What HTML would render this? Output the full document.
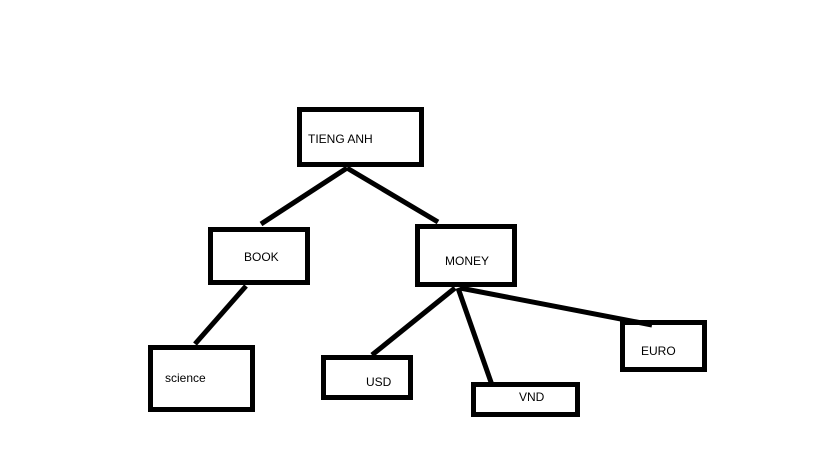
<!DOCTYPE html>
<html><head><meta charset="utf-8"><style>
html,body{margin:0;padding:0;background:#fff;width:819px;height:460px;overflow:hidden}
</style></head><body>
<svg width="819" height="460" xmlns="http://www.w3.org/2000/svg">
<g fill="none" stroke="#000" stroke-width="5">
<rect x="299.5" y="109.5" width="122" height="55"/>
<rect x="210.5" y="229.5" width="97" height="53"/>
<rect x="417.5" y="226.5" width="97" height="58"/>
<rect x="150.5" y="347.5" width="102" height="62"/>
<rect x="323.5" y="357.5" width="87" height="40"/>
<rect x="473.5" y="384.5" width="104" height="30"/>
<rect x="622.5" y="322.5" width="82" height="47"/>
<line x1="347" y1="168" x2="261" y2="224"/>
<line x1="347" y1="168" x2="438" y2="222"/>
<line x1="246" y1="286" x2="195" y2="344"/>
<line x1="455" y1="288" x2="372" y2="355"/>
<line x1="458" y1="288" x2="492" y2="385"/>
<line x1="460" y1="288" x2="652" y2="325"/>
</g>
<g font-family="Liberation Sans, sans-serif" font-size="12" fill="#000">
<text x="308" y="143">TIENG ANH</text>
<text x="244" y="261">BOOK</text>
<text x="445" y="265">MONEY</text>
<text x="165" y="382">science</text>
<text x="366" y="386">USD</text>
<text x="519" y="401">VND</text>
<text x="641" y="355">EURO</text>
</g>
</svg>
</body></html>
